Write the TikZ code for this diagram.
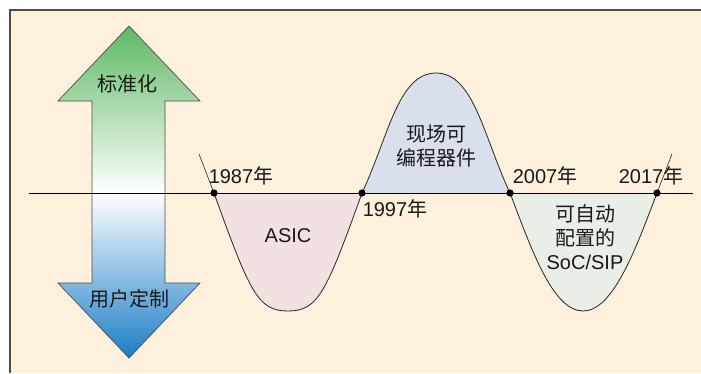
\documentclass[tikz,border=0pt]{standalone}
\usepackage{fontspec}
\setmainfont{Liberation Sans}
\newfontfamily\cjk{Noto Sans CJK SC}
\definecolor{bgcream}{HTML}{FDF0DC}
\definecolor{asicfill}{HTML}{F3E0E0}
\definecolor{fpgafill}{HTML}{DAE0EB}
\definecolor{socfill}{HTML}{E9EFE7}
\definecolor{arrgreen}{HTML}{5DB862}
\definecolor{arrblue}{HTML}{1C7DC6}
\begin{document}
\begin{tikzpicture}[x=1pt,y=-1pt,
  lbl/.style={font=\fontsize{20}{24}\selectfont, text=black!90, inner sep=0pt, align=center},
  curveline/.style={draw=black!85, line width=0.8pt},
  dotmark/.style={fill=black}]
\useasboundingbox (0,0) rectangle (701,373);
\fill[white] (0,0) rectangle (701,373);
\fill[bgcream] (10,10) rectangle (701,373);
\draw[black!70, line width=1.3pt] (10,373) -- (10,10) -- (701,10);

% double arrow
\shade[top color=arrgreen, bottom color=white]
  (129,26) -- (200,101) -- (165,101) -- (165,193) -- (92,193) -- (92,101) -- (58,101) -- cycle;
\shade[top color=white, bottom color=arrblue]
  (92,193) -- (165,193) -- (165,283) -- (200,283) -- (129,358) -- (58,283) -- (92,283) -- cycle;
\draw[black!70, line width=0.7pt, line join=miter]
  (129,26) -- (200,101) -- (165,101) -- (165,283) -- (200,283) -- (129,358)
  -- (58,283) -- (92,283) -- (92,101) -- (58,101) -- cycle;

% key points
\coordinate (y87) at (214,193);
\coordinate (y97) at (362,193);
\coordinate (y07) at (510,193);
\coordinate (y17) at (657,193);
\coordinate (asicbot) at (288,311);
\coordinate (fpgatop) at (436,73);
\coordinate (socbot) at (583,311);
\coordinate (tickA) at (199,154);
\coordinate (tickB) at (672,154);

% fills
\fill[asicfill] (y87) .. controls (250,293) and (258,311) .. (asicbot)
  .. controls (318,311) and (326,293) .. (y97) -- cycle;
\fill[fpgafill] (y97) .. controls (388,138) and (398,73) .. (fpgatop)
  .. controls (474,73) and (484,138) .. (y07) -- cycle;
\fill[socfill] (y07) .. controls (530,245) and (552,311) .. (socbot)
  .. controls (614,311) and (637,245) .. (y17) -- cycle;

% axis
\draw[black, line width=0.9pt] (29,193) -- (693,193);

% curves
\draw[curveline] (y87) .. controls (250,293) and (258,311) .. (asicbot)
  .. controls (318,311) and (326,293) .. (y97);
\draw[curveline] (y97) .. controls (388,138) and (398,73) .. (fpgatop)
  .. controls (474,73) and (484,138) .. (y07);
\draw[curveline] (y07) .. controls (530,245) and (552,311) .. (socbot)
  .. controls (614,311) and (637,245) .. (y17);
\draw[black!85, line width=0.6pt] (tickA) -- (y87);
\draw[black!85, line width=0.6pt] (y17) -- (tickB);

\foreach \p in {y87,y97,y07,y17} \fill[dotmark] (\p) circle (3.6pt);

% labels
\node[lbl] (l87) at (241,176) {1987{\cjk 年}};
\node[lbl] (l97) at (395,209) {1997{\cjk 年}};
\node[lbl] (l07) at (545,176) {2007{\cjk 年}};
\node[lbl] (l17) at (651,176) {2017{\cjk 年}};
\node[lbl] (asic) at (288,236) {ASIC};
\node[lbl, font=\fontsize{20}{24}\selectfont\cjk] (fpga) at (436,146) {现场可\\编程器件};
\node[lbl, font=\fontsize{20}{24}\selectfont] (soc) at (585,237) {{\cjk 可自动}\\{\cjk 配置的}\\SoC/SIP};
\node[lbl, font=\fontsize{20}{24}\selectfont\cjk] (std) at (127,84) {标准化};
\node[lbl, font=\fontsize{20}{24}\selectfont\cjk] (cust) at (129,299) {用户定制};
\end{tikzpicture}
\end{document}
